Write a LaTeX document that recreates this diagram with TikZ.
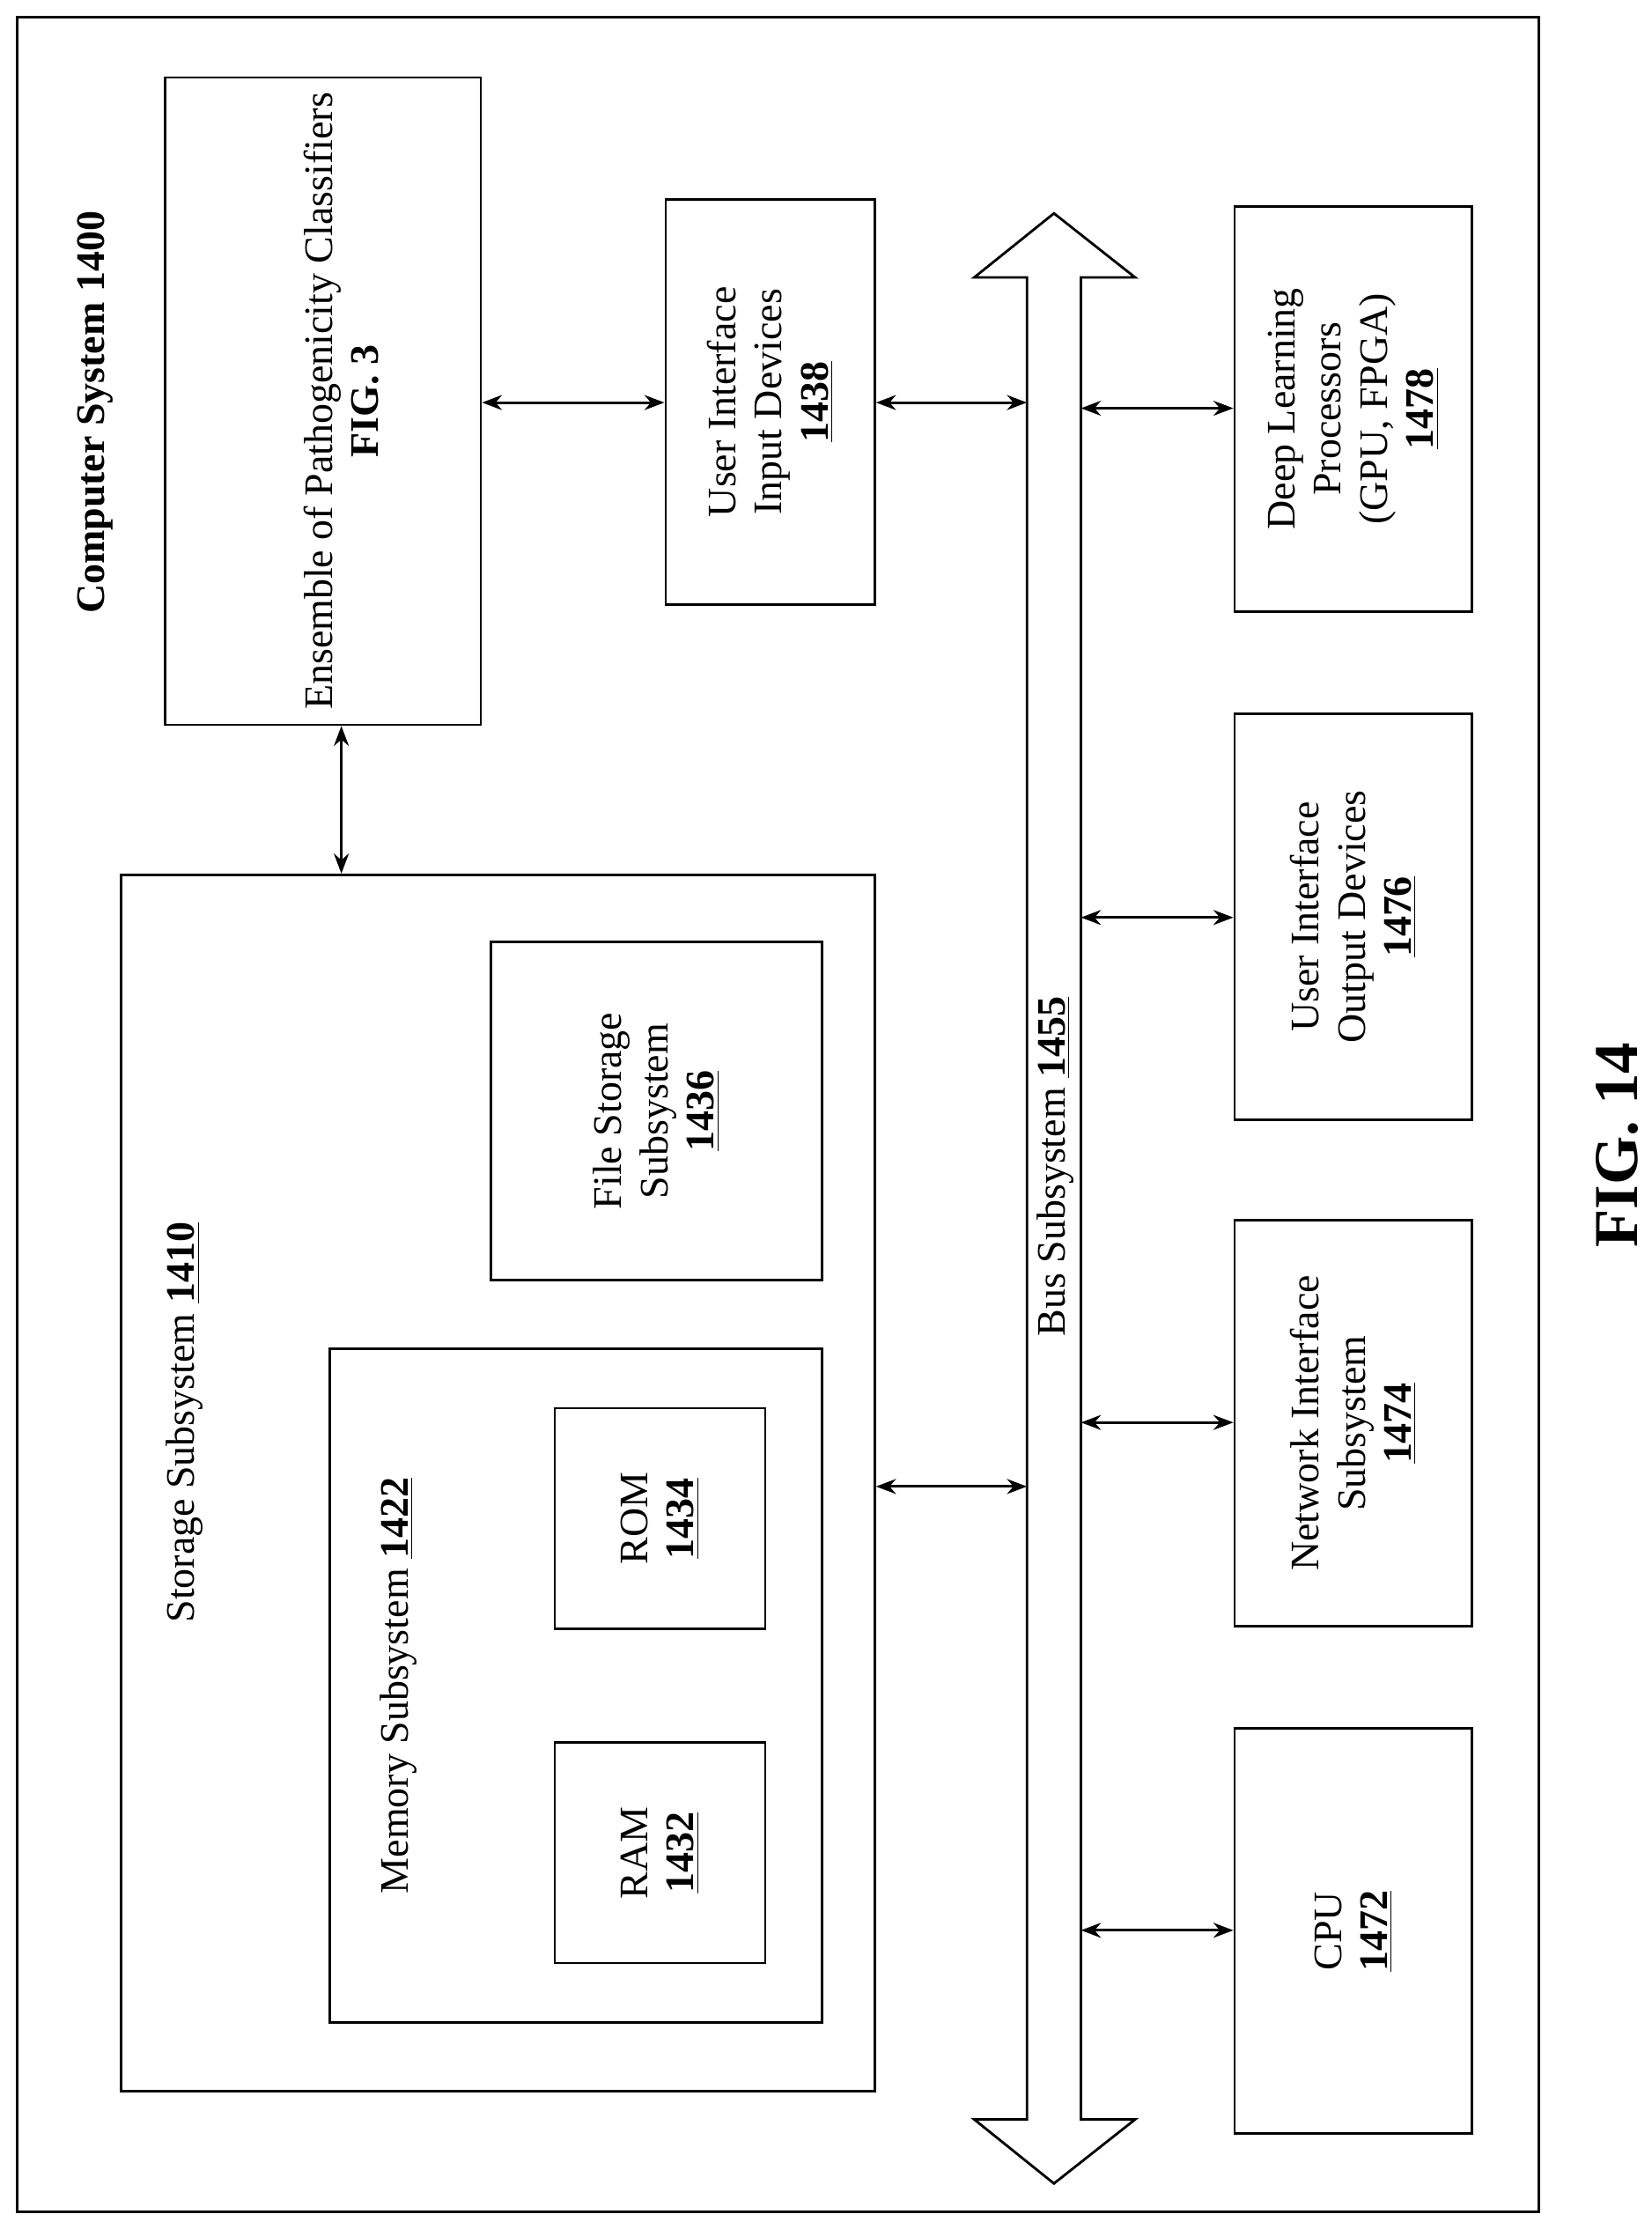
\documentclass[tikz,border=0pt]{standalone}
\usepackage{fontspec}
\setmainfont{Liberation Serif}
\usetikzlibrary{arrows.meta}
\begin{document}
\begin{tikzpicture}[x=0.02cm,y=-0.02cm,
 box/.style={draw,line width=1pt},
 lbl/.style={rotate=90,align=center,font=\fontsize{16.2}{18.5}\selectfont},
 link/.style={line width=1pt,{Stealth[length=8pt,width=6pt]}-{Stealth[length=8pt,width=6pt]}}]
\useasboundingbox (0,0) rectangle (1161,1567);
\draw[line width=1pt] (12,12) rectangle (1082,1555);
\node[lbl,font=\fontsize{16.2}{18.5}\selectfont\bfseries] (cs) at (67,290) {Computer System 1400};
% ensemble
\node[box,minimum width=222*0.02cm,minimum height=455*0.02cm] (ens) at (227,282) {};
\node[lbl] (enst) at (240,282) {Ensemble of Pathogenicity Classifiers\\\textbf{FIG. 3}};
% UI input
\node[box,minimum width=147*0.02cm,minimum height=285*0.02cm] (uii) at (541.5,282.5) {};
\node[lbl] at (541.5,282.5) {User Interface\\Input Devices\\\textbf{\underline{1438}}};
% bus
\draw[line width=1pt] (722,195) -- (685,195) -- (741,150) -- (798,195) -- (760,195) -- (760,1490) -- (798,1490) -- (741,1535) -- (685,1490) -- (722,1490) -- cycle;
\node[lbl] (bus) at (742,820) {Bus Subsystem \textbf{\underline{1455}}};
\coordinate (bl1) at (722,283); \coordinate (bl2) at (722,1045);
\coordinate (br1) at (760,287); \coordinate (br2) at (760,645);
\coordinate (br3) at (760,1000); \coordinate (br4) at (760,1357);
% right boxes
\node[box,minimum width=167*0.02cm,minimum height=285*0.02cm] (dl) at (951.5,287.5) {};
\node[lbl] at (951.5,287.5) {Deep Learning\\Processors\\(GPU, FPGA)\\\textbf{\underline{1478}}};
\node[box,minimum width=167*0.02cm,minimum height=285*0.02cm] (uio) at (951.5,644.5) {};
\node[lbl] at (951.5,644.5) {User Interface\\Output Devices\\\textbf{\underline{1476}}};
\node[box,minimum width=167*0.02cm,minimum height=285*0.02cm] (ni) at (951.5,1000.5) {};
\node[lbl] at (951.5,1000.5) {Network Interface\\Subsystem\\\textbf{\underline{1474}}};
\node[box,minimum width=167*0.02cm,minimum height=285*0.02cm] (cpu) at (951.5,1357.5) {};
\node[lbl] at (951.5,1357.5) {CPU\\\textbf{\underline{1472}}};
% storage
\node[box,minimum width=530*0.02cm,minimum height=855*0.02cm] (st) at (350,1042.5) {};
\node[lbl] at (130,1000) {Storage Subsystem \textbf{\underline{1410}}};
\node[box,minimum width=233*0.02cm,minimum height=238*0.02cm] (fs) at (461.5,781) {};
\node[lbl] at (461.5,781) {File Storage\\Subsystem\\\textbf{\underline{1436}}};
\node[box,minimum width=346*0.02cm,minimum height=474*0.02cm] (mem) at (405,1185) {};
\node[lbl] at (280,1185) {Memory Subsystem \textbf{\underline{1422}}};
\node[box,minimum width=148*0.02cm,minimum height=155*0.02cm] (rom) at (464,1067.5) {};
\node[lbl] at (464,1067.5) {ROM\\\textbf{\underline{1434}}};
\node[box,minimum width=148*0.02cm,minimum height=155*0.02cm] (ram) at (464,1302.5) {};
\node[lbl] at (464,1302.5) {RAM\\\textbf{\underline{1432}}};
% arrows
\draw[link] (ens.east |- 0,283) -- (uii.west |- 0,283);
\draw[link] (uii.east |- bl1) -- (bl1);
\draw[link] (ens.south -| 240,0) -- (st.north -| 240,0);
\draw[link] (st.east |- bl2) -- (bl2);
\draw[link] (br1) -- (dl.west |- br1);
\draw[link] (br2) -- (uio.west |- br2);
\draw[link] (br3) -- (ni.west |- br3);
\draw[link] (br4) -- (cpu.west |- br4);
\node[rotate=90,font=\fontsize{25}{28}\selectfont\bfseries] (fig) at (1137,805) {FIG. 14};
\end{tikzpicture}
\end{document}
